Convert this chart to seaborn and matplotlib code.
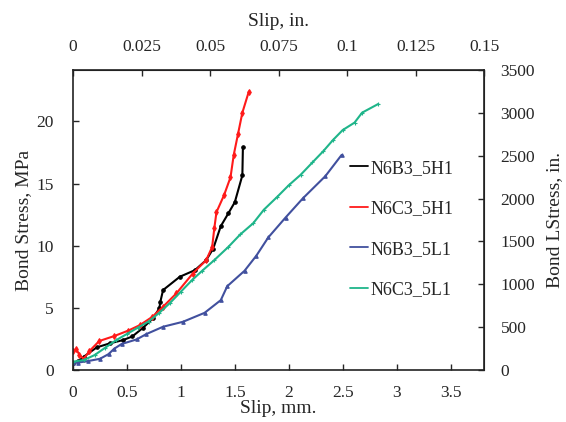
import numpy as np
import pandas as pd
import matplotlib
matplotlib.use("Agg")
import matplotlib.pyplot as plt
import seaborn as sns

# ---- data (slip mm, bond stress MPa) ----
b3h_x = [0, 0.05, 0.1, 0.22, 0.34, 0.465, 0.55, 0.65, 0.74, 0.80, 0.81, 0.835, 0.99, 1.13, 1.235, 1.30, 1.37, 1.44, 1.50, 1.57, 1.575]
b3h_y = [0.55, 0.7, 1.07, 1.82, 2.14, 2.41, 2.7, 3.4, 4.15, 4.95, 5.5, 6.43, 7.5, 8.03, 8.84, 9.77, 11.57, 12.6, 13.5, 15.66, 17.9]

c3h_x = [0, 0.03, 0.06, 0.1, 0.15, 0.243, 0.382, 0.51, 0.62, 0.736, 0.835, 0.958, 1.11, 1.235, 1.29, 1.31, 1.33, 1.40, 1.46, 1.49, 1.53, 1.57, 1.63]
c3h_y = [1.5, 1.7, 1.2, 0.9, 1.5, 2.33, 2.73, 3.16, 3.61, 4.28, 5.09, 6.16, 7.76, 8.84, 9.9, 11.4, 12.7, 14.06, 15.5, 17.3, 19.0, 20.7, 22.4]

b3l_x = [0, 0.05, 0.14, 0.25, 0.33, 0.38, 0.45, 0.59, 0.68, 0.835, 1.02, 1.22, 1.37, 1.43, 1.59, 1.70, 1.81, 1.97, 2.13, 2.34, 2.49]
b3l_y = [0.55, 0.6, 0.72, 0.9, 1.28, 1.7, 2.09, 2.46, 2.89, 3.48, 3.88, 4.6, 5.62, 6.74, 7.98, 9.2, 10.66, 12.26, 13.8, 15.6, 17.3]

c3l_x = [0, 0.1, 0.2, 0.3, 0.4, 0.5, 0.6, 0.7, 0.8, 0.9, 1.0, 1.1, 1.2, 1.31, 1.44, 1.55, 1.67, 1.77, 1.89, 2.00, 2.11, 2.22, 2.32, 2.41, 2.50, 2.61, 2.68, 2.83]
c3l_y = [0.67, 0.8, 1.2, 1.8, 2.4, 2.9, 3.4, 3.9, 4.6, 5.4, 6.3, 7.2, 8.0, 8.84, 9.9, 10.9, 11.8, 12.9, 13.9, 14.86, 15.7, 16.7, 17.6, 18.5, 19.3, 19.9, 20.7, 21.4]

names = ["N6B3_5H1", "N6C3_5H1", "N6B3_5L1", "N6C3_5L1"]
colors = ["#000000", "#ff1a1a", "#41509e", "#1fb58a"]
markers = ["o", "d", "^", "+"]
msizes = [2.5, 3.0, 2.5, 3.0]

frames = []
for n, xs, ys in zip(names, [b3h_x, c3h_x, b3l_x, c3l_x], [b3h_y, c3h_y, b3l_y, c3l_y]):
    frames.append(pd.DataFrame({"slip": xs, "stress": ys, "series": n}))
df = pd.concat(frames, ignore_index=True)

sns.set_style("ticks")
plt.rcParams["font.family"] = ["Liberation Serif", "DejaVu Serif"]
plt.rcParams["font.size"] = 12.5

fig = plt.figure(figsize=(5.66, 4.22), dpi=100)
ax = fig.add_axes([73/566, 1-370/422, (484-73)/566, (370-70)/422])

for n, c, m, s in zip(names, colors, markers, msizes):
    sub = df[df["series"] == n]
    sns.lineplot(data=sub, x="slip", y="stress", ax=ax, color=c, marker=m,
                 markersize=s, markeredgecolor=c, markerfacecolor=c, markeredgewidth=0.8,
                 linewidth=1.5, sort=False, estimator=None, label=n)

MM_PER_IN = 25.4
PSI_PER_MPA = 145.0377
ax.set_xlim(0, 0.15 * MM_PER_IN)
ax.set_ylim(0, 3500 / PSI_PER_MPA)
ax.set_xticks([0, 0.5, 1, 1.5, 2, 2.5, 3, 3.5])
ax.set_xticklabels(["0", "0.5", "1", "1.5", "2", "2.5", "3", "3.5"])
ax.set_yticks([0, 5, 10, 15, 20])
ax.set_xlabel("Slip, mm.", labelpad=-1, fontsize=14)
ax.set_ylabel("Bond Stress, MPa", labelpad=3, fontsize=14)
ax.tick_params(axis="x", direction="in", length=4, width=1, labelsize=12.5, pad=11)
ax.tick_params(axis="y", direction="in", length=4, width=1, labelsize=12.5, pad=14)

secx = ax.secondary_xaxis("top", functions=(lambda x: x / MM_PER_IN, lambda x: x * MM_PER_IN))
secx.set_xticks([0, 0.025, 0.05, 0.075, 0.1, 0.125, 0.15])
secx.set_xticklabels(["0", "0.025", "0.05", "0.075", "0.1", "0.125", "0.15"])
secx.set_xlabel("Slip, in.", labelpad=9, fontsize=14)
secx.tick_params(direction="in", length=4, width=1, labelsize=12.5, pad=11)

secy = ax.secondary_yaxis("right", functions=(lambda y: y * PSI_PER_MPA, lambda y: y / PSI_PER_MPA))
secy.set_yticks(list(range(0, 3501, 500)))
secy.set_ylabel("Bond LStress, in.", labelpad=8, fontsize=14)
secy.tick_params(direction="in", length=4, width=1, labelsize=12.5, pad=12)

for sp in ax.spines.values():
    sp.set_linewidth(1.2)
    sp.set_color("#222222")

leg = ax.legend(loc="upper left", bbox_to_anchor=(0.635, 0.755), frameon=False,
                handlelength=1.0, handletextpad=0.12, labelspacing=1.3,
                fontsize=13)
for h in leg.get_lines():
    h.set_marker("")
    h.set_linewidth(1.3)

fig.savefig("out.png", dpi=100)
